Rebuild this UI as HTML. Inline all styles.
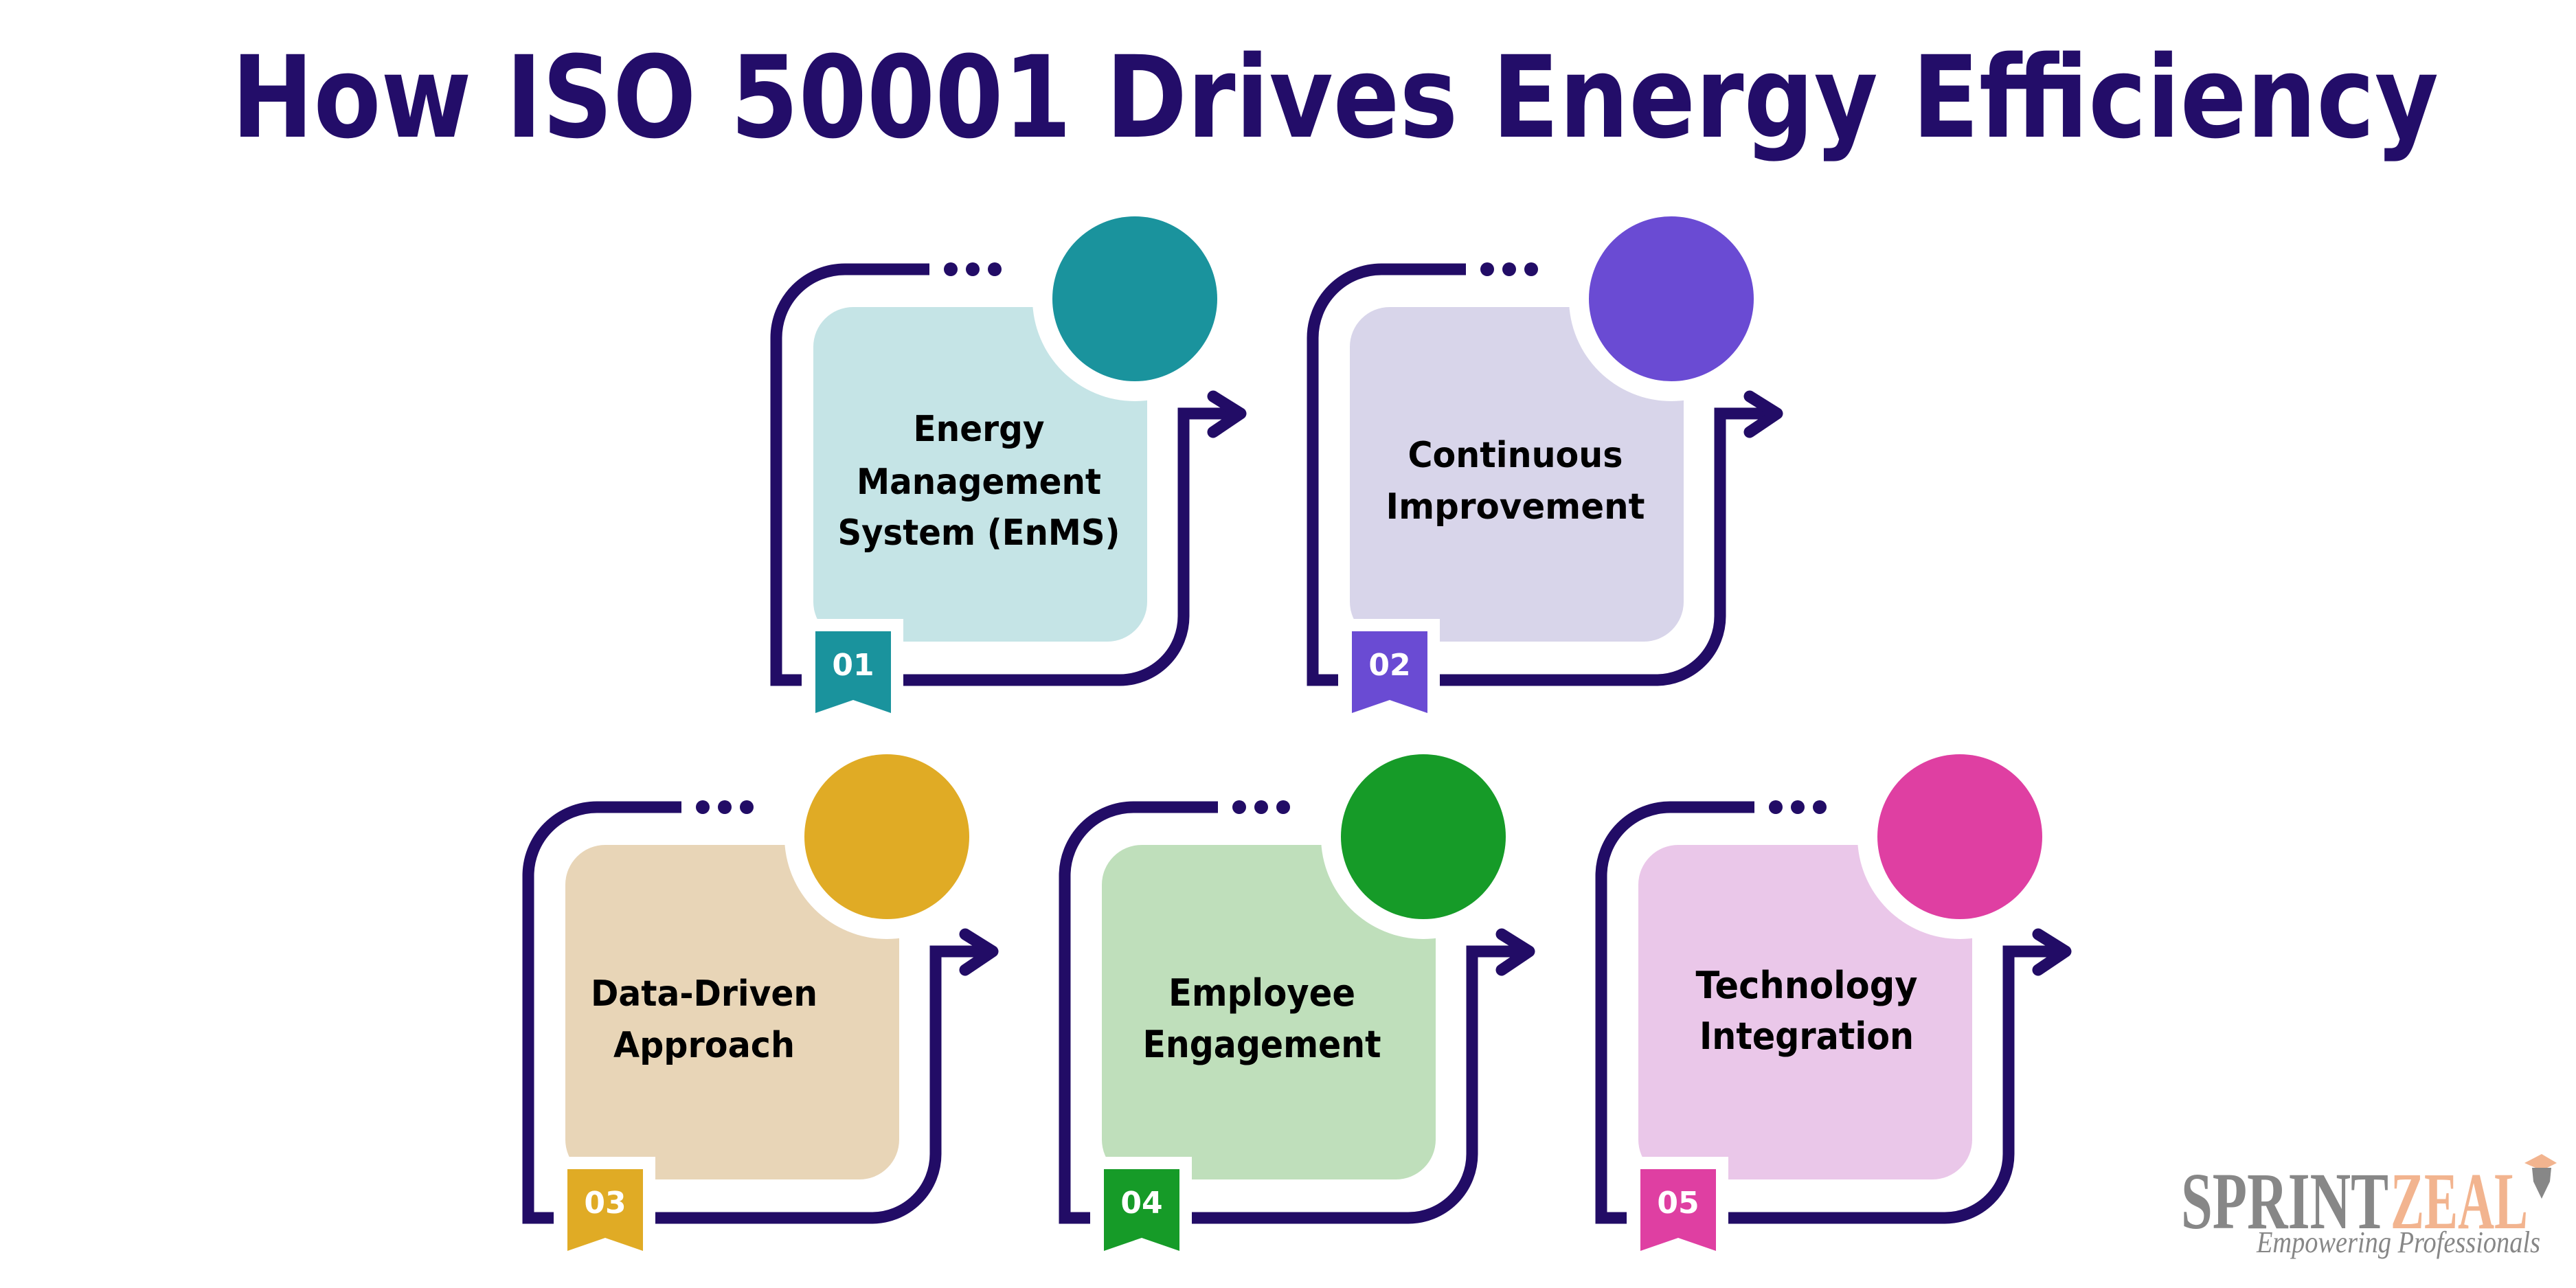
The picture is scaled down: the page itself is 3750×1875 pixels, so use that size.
<!DOCTYPE html>
<html><head><meta charset="utf-8"><style>html,body{margin:0;padding:0;background:#fff}svg{display:block}</style></head>
<body>
<svg width="3750" height="1875" viewBox="0 0 3750 1875" xmlns="http://www.w3.org/2000/svg">
<rect width="3750" height="1875" fill="#fff"/>
<text x="337" y="199" font-family="DejaVu Sans, Liberation Sans, sans-serif" font-weight="bold" font-size="165" fill="#230d69" textLength="3213" lengthAdjust="spacingAndGlyphs">How ISO 50001 Drives Energy Efficiency</text>

<defs>
<g id="frame">
<path d="M1353,392 H1230 A100,100 0 0 0 1130,492 V990 H1630 A93,93 0 0 0 1723,897 V602 H1806" fill="none" stroke="#220c66" stroke-width="17"/>
<path d="M1766,577 L1806,602 L1766,629" fill="none" stroke="#220c66" stroke-width="17" stroke-linecap="round" stroke-linejoin="round"/>
<circle cx="1384" cy="392" r="10" fill="#220c66"/>
<circle cx="1416" cy="392" r="10" fill="#220c66"/>
<circle cx="1448" cy="392" r="10" fill="#220c66"/>
</g>
</defs>

<g font-family="DejaVu Sans, Liberation Sans, sans-serif" font-weight="bold" text-anchor="middle">
<!-- card 1 -->
<g>
<use href="#frame"/>
<rect x="1184" y="447" width="486" height="487" rx="58" fill="#c5e4e6"/>
<circle cx="1652" cy="435" r="149" fill="#fff"/>
<circle cx="1652" cy="435" r="120" fill="#1a939d"/>
<rect x="1167" y="901" width="148" height="161" fill="#fff"/>
<polygon points="1187,919 1297,919 1297,1038 1242,1019 1187,1038" fill="#1a939d"/>
<text x="1242" y="983" font-size="44" fill="#fff">01</text>
<text x="1425" y="642" font-size="52" fill="#000" textLength="191" lengthAdjust="spacingAndGlyphs">Energy</text>
<text x="1425" y="719" font-size="52" fill="#000" textLength="356" lengthAdjust="spacingAndGlyphs">Management</text>
<text x="1425" y="793" font-size="52" fill="#000" textLength="411" lengthAdjust="spacingAndGlyphs">System (EnMS)</text>
</g>
<!-- card 2 -->
<g transform="translate(781,0)">
<use href="#frame"/>
<rect x="1184" y="447" width="486" height="487" rx="58" fill="#d8d5ea"/>
<circle cx="1652" cy="435" r="149" fill="#fff"/>
<circle cx="1652" cy="435" r="120" fill="#6a4bd3"/>
<rect x="1167" y="901" width="148" height="161" fill="#fff"/>
<polygon points="1187,919 1297,919 1297,1038 1242,1019 1187,1038" fill="#6a4bd3"/>
<text x="1242" y="983" font-size="44" fill="#fff">02</text>
<text x="1425" y="680" font-size="52" fill="#000" textLength="313" lengthAdjust="spacingAndGlyphs">Continuous</text>
<text x="1425" y="755" font-size="52" fill="#000" textLength="377" lengthAdjust="spacingAndGlyphs">Improvement</text>
</g>
<!-- card 3 -->
<g transform="translate(-361,783)">
<use href="#frame"/>
<rect x="1184" y="447" width="486" height="487" rx="58" fill="#e8d5b7"/>
<circle cx="1652" cy="435" r="149" fill="#fff"/>
<circle cx="1652" cy="435" r="120" fill="#e0ab25"/>
<rect x="1167" y="901" width="148" height="161" fill="#fff"/>
<polygon points="1187,919 1297,919 1297,1038 1242,1019 1187,1038" fill="#e0ab25"/>
<text x="1242" y="983" font-size="44" fill="#fff">03</text>
<text x="1386" y="681" font-size="52" fill="#000" textLength="330" lengthAdjust="spacingAndGlyphs">Data-Driven</text>
<text x="1386" y="756" font-size="52" fill="#000" textLength="264" lengthAdjust="spacingAndGlyphs">Approach</text>
</g>
<!-- card 4 -->
<g transform="translate(420,783)">
<use href="#frame"/>
<rect x="1184" y="447" width="486" height="487" rx="58" fill="#bfdfbb"/>
<circle cx="1652" cy="435" r="149" fill="#fff"/>
<circle cx="1652" cy="435" r="120" fill="#169b28"/>
<rect x="1167" y="901" width="148" height="161" fill="#fff"/>
<polygon points="1187,919 1297,919 1297,1038 1242,1019 1187,1038" fill="#169b28"/>
<text x="1242" y="983" font-size="44" fill="#fff">04</text>
<text x="1417" y="681" font-size="54" fill="#000" textLength="272" lengthAdjust="spacingAndGlyphs">Employee</text>
<text x="1417" y="756" font-size="54" fill="#000" textLength="347" lengthAdjust="spacingAndGlyphs">Engagement</text>
</g>
<!-- card 5 -->
<g transform="translate(1201,783)">
<use href="#frame"/>
<rect x="1184" y="447" width="486" height="487" rx="58" fill="#eac7e9"/>
<circle cx="1652" cy="435" r="149" fill="#fff"/>
<circle cx="1652" cy="435" r="120" fill="#df3fa2"/>
<rect x="1167" y="901" width="148" height="161" fill="#fff"/>
<polygon points="1187,919 1297,919 1297,1038 1242,1019 1187,1038" fill="#df3fa2"/>
<text x="1242" y="983" font-size="44" fill="#fff">05</text>
<text x="1429" y="670" font-size="54" fill="#000" textLength="323" lengthAdjust="spacingAndGlyphs">Technology</text>
<text x="1429" y="744" font-size="54" fill="#000" textLength="312" lengthAdjust="spacingAndGlyphs">Integration</text>
</g>
</g>

<!-- logo -->
<g font-family="Liberation Serif, serif">
<text x="3175" y="1788" font-size="118" font-weight="bold" fill="#878787" textLength="302" lengthAdjust="spacingAndGlyphs">SPRINT</text>
<text x="3480" y="1788" font-size="118" font-weight="bold" fill="#f2b48f" textLength="200" lengthAdjust="spacingAndGlyphs">ZEAL</text>
<text x="3285" y="1823" font-size="44" font-style="italic" fill="#878787" textLength="413" lengthAdjust="spacingAndGlyphs">Empowering Professionals</text>
<polygon points="3675,1693 3700,1680 3722,1693 3700,1704" fill="#f2b48f"/>
<polygon points="3686,1700 3714,1700 3712,1720 3700,1745 3688,1720" fill="#878787"/>
</g>
</svg>
</body></html>
